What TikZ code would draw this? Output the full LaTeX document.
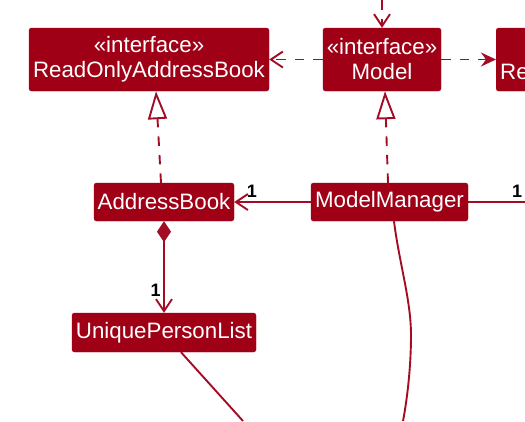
\documentclass[tikz,border=0pt]{standalone}
\usepackage{fontspec}
\setmainfont{Liberation Sans}
\usetikzlibrary{arrows.meta,calc}
\definecolor{boxred}{RGB}{160,0,22}
\definecolor{linered}{RGB}{163,12,36}
\begin{document}
\begin{tikzpicture}[x=1pt,y=-1pt,
  umlbox/.style={fill=boxred,draw=boxred,rounded corners=2.5pt,text=white,
    font=\fontsize{22.3}{25}\selectfont,inner sep=0pt,align=center},
  conn/.style={draw=linered,line width=1.9pt},
  dashln/.style={dash pattern=on 9.5pt off 9pt},
  dep/.style={conn,dashln,-{Straight Barb[length=12pt,width=16pt]}},
  depf/.style={conn,dashln,-{Stealth[length=15pt,width=14pt,inset=5pt]}},
  real/.style={conn,dashln,-{Triangle[open,length=28pt,width=19pt]}},
  assoc/.style={conn,-{Straight Barb[length=12pt,width=16pt]}},
  comp/.style={conn,{Diamond[length=21pt,width=14pt]}-{Straight Barb[length=12pt,width=16pt]}},
  wire/.style={conn},
  mult/.style={font=\fontsize{18}{20}\selectfont\bfseries,text=black,inner sep=0pt}
]
\useasboundingbox (0,0) rectangle (525,421);
\clip (0,0) rectangle (525,421);

% nodes
\node[umlbox,minimum width=240pt,minimum height=63pt] (rab) at (149,59.5) {«interface»\\ReadOnlyAddressBook};
\node[umlbox,minimum width=118pt,minimum height=63pt] (model) at (382,59.5) {«interface»\\Model};
\node[umlbox,anchor=west,minimum height=63pt,align=left,inner xsep=4pt] (rup) at (496,59.5) {\phantom{«interface»}\\Re};
\node[umlbox,minimum width=140pt,minimum height=38pt] (ab) at (164,202) {AddressBook};
\node[umlbox,minimum width=157pt,minimum height=38pt] (mm) at (389.5,202) {ModelManager};
\node[umlbox,minimum width=184pt,minimum height=39pt] (upl) at (164,332.5) {UniquePersonList};

% free ends
\coordinate (topin) at (382,0);
\coordinate (rout) at (525,202);
\coordinate (uplout) at (243,421);
\coordinate (cmid) at (411,335);
\coordinate (cend) at (403,421);

% connectors
\draw[dep] (topin) -- (model.north);
\draw[dep] (model.west) -- (rab.east);
\draw[depf] (model.east) -- (rup.west);
\draw[real] ($(ab.north)+(-3,0)$) -- ($(rab.south)+(7,0)$);
\draw[real] ($(mm.north)+(-1.5,0)$) -- ($(model.south)+(3,0)$);
\draw[assoc] (mm.west) -- node[mult,pos=0.77,above=4pt] (m1) {1} (ab.east);
\draw[wire] (mm.east) -- node[mult,pos=0.86,above=4pt] (m2) {1} (rout);
\draw[comp] (ab.south) -- node[mult,pos=0.75,left=2.5pt] (m3) {1} (upl.north);
\draw[wire] ($(upl.south)+(17,0)$) -- (uplout);
\draw[wire] ($(mm.south)+(4.5,0)$) .. controls (399,262) and (411,300) .. (cmid)
  .. controls (411,368) and (407,400) .. (cend);
\end{tikzpicture}
\end{document}
